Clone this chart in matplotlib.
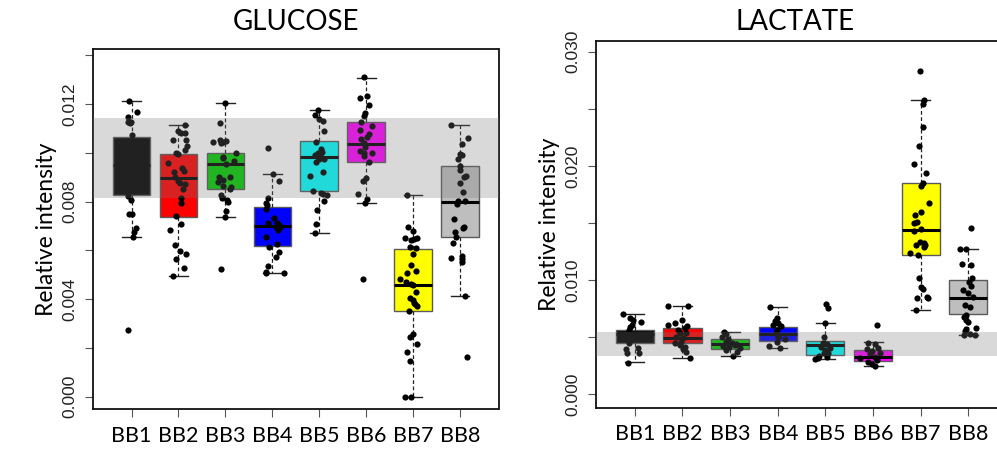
import matplotlib
matplotlib.use('Agg')
import matplotlib.pyplot as plt

groups = ['BB1', 'BB2', 'BB3', 'BB4', 'BB5', 'BB6', 'BB7', 'BB8']
box_colors = ['#000000', '#FF0000', '#00CD00', '#0000FF', '#00FFFF', '#FF00FF', '#FFFF00', '#BEBEBE']

# ---- GLUCOSE: box statistics
glu_q1 = [0.00828, 0.00738, 0.00850, 0.00616, 0.00843, 0.00960, 0.00350, 0.00654]
glu_med = [0.00950, 0.00896, 0.00954, 0.00699, 0.00982, 0.01036, 0.00460, 0.00800]
glu_q3 = [0.01066, 0.00995, 0.00999, 0.00777, 0.01046, 0.01127, 0.00607, 0.00945]
glu_lo = [0.00654, 0.00493, 0.00736, 0.00507, 0.00673, 0.00795, 0.00000, 0.00413]
glu_hi = [0.01210, 0.01112, 0.01204, 0.00913, 0.01173, 0.01307, 0.00827, 0.01115]
glu_band = (0.00816, 0.01142)

# GLUCOSE points (values) and their horizontal jitter (fraction of spacing)
glu_BB1 = [0.0121, 0.01168, 0.01148, 0.01127, 0.01124, 0.0112, 0.01072, 0.0098, 0.0092,
           0.0088, 0.00822, 0.00806, 0.00749, 0.00749, 0.0069, 0.00676, 0.00656, 0.00273]
glu_BB1_jit = [-0.06, 0.11, -0.07, -0.085, -0.01, -0.035, 0.0, 0.02, -0.05,
               0.05, -0.085, -0.015, -0.06, 0.0, 0.09, 0.06, 0.035, -0.085]
glu_BB2 = [0.01113, 0.0109, 0.01082, 0.01079, 0.01052, 0.01052, 0.01027, 0.01011, 0.00997, 0.00995,
           0.00956, 0.00936, 0.00926, 0.00922, 0.00899, 0.00885, 0.00874, 0.00872, 0.0085, 0.00813,
           0.00792, 0.0074, 0.00706, 0.00683, 0.00622, 0.00598, 0.00585, 0.00563, 0.00526, 0.00495]
glu_BB2_jit = [0.13, 0.0, 0.06, 0.14, -0.12, 0.16, 0.18, 0.13, -0.05, 0.0,
               -0.23, 0.07, 0.11, -0.1, -0.07, -0.01, 0.04, 0.14, 0.09, 0.06,
               0.06, -0.05, 0.06, -0.17, -0.07, 0.04, 0.16, -0.05, 0.11, -0.12]
glu_BB3 = [0.01202, 0.01123, 0.01045, 0.01052, 0.01045, 0.01049, 0.01038, 0.01, 0.00984, 0.00977,
           0.00954, 0.00967, 0.00899, 0.00888, 0.00899, 0.00881, 0.00863, 0.00858, 0.0085, 0.00827,
           0.00813, 0.00806, 0.00799, 0.00762, 0.00738, 0.00522]
glu_BB3_jit = [0.0, -0.11, -0.26, -0.11, -0.06, 0.01, -0.09, 0.23, -0.04, -0.06,
               0.01, 0.19, -0.13, -0.06, 0.1, -0.16, -0.04, 0.12, 0.1, -0.09,
               -0.07, 0.03, 0.05, 0.01, 0.0, -0.09]
glu_BB4 = [0.01018, 0.00913, 0.00885, 0.00813, 0.00795, 0.00768, 0.00786, 0.00731, 0.0071, 0.0071,
           0.00704, 0.00697, 0.00694, 0.00683, 0.00656, 0.00628, 0.00615, 0.00594, 0.00571, 0.00537,
           0.00508, 0.00508, 0.00512]
glu_BB4_jit = [-0.09, 0.01, 0.14, -0.09, -0.13, -0.14, -0.11, 0.03, -0.09, 0.1,
               0.14, 0.17, 0.07, 0.12, -0.13, 0.1, -0.06, 0.14, 0.07, -0.09,
               -0.13, 0.24, -0.14]
glu_BB5 = [0.01175, 0.01154, 0.01137, 0.01131, 0.0109, 0.01045, 0.01014, 0.00997, 0.01004, 0.0099,
           0.00981, 0.00973, 0.00973, 0.00963, 0.00922, 0.00904, 0.00844, 0.00836, 0.00831, 0.00827,
           0.00803, 0.00765, 0.00708, 0.00672]
glu_BB5_jit = [-0.03, -0.09, -0.01, 0.08, 0.11, -0.06, 0.03, -0.03, 0.06, -0.09,
               0.04, -0.01, 0.1, -0.06, 0.08, -0.2, -0.13, 0.03, 0.08, 0.17,
               0.11, -0.04, -0.06, -0.09]
glu_BB6 = [0.01309, 0.01223, 0.01232, 0.01195, 0.01164, 0.0115, 0.01127, 0.01111, 0.01093, 0.01077,
           0.01063, 0.01055, 0.01041, 0.01022, 0.01008, 0.01, 0.00997, 0.00986, 0.00963, 0.00895,
           0.00885, 0.00831, 0.00809, 0.00795, 0.00482]
glu_BB6_jit = [-0.05, -0.14, 0.02, 0.07, -0.02, -0.05, -0.11, 0.12, -0.14, 0.05,
               0.02, -0.12, -0.04, -0.02, -0.14, -0.05, 0.12, -0.04, 0.07, 0.0,
               -0.07, -0.18, 0.02, -0.02, -0.07]
glu_BB7 = [0.00826, 0.00697, 0.0068, 0.00649, 0.00642, 0.00645, 0.00649, 0.00615, 0.00608, 0.00585,
           0.0054, 0.00516, 0.00508, 0.00481, 0.00471, 0.00464, 0.00456, 0.0043, 0.00403, 0.00396,
           0.00385, 0.0038, 0.00372, 0.00352, 0.00257, 0.00246, 0.00216, 0.00184, 0.00148, 0.0, 0.0]
glu_BB7_jit = [-0.13, -0.11, -0.01, -0.18, -0.04, 0.01, 0.09, -0.06, 0.06, -0.01,
               -0.04, 0.07, -0.13, -0.28, -0.16, -0.04, -0.01, 0.06, -0.06, -0.01,
               0.01, 0.04, 0.09, -0.09, -0.01, -0.06, 0.09, -0.13, -0.06, -0.18, -0.04]
glu_BB8 = [0.01113, 0.01059, 0.01034, 0.00995, 0.0099, 0.00973, 0.00945, 0.00929, 0.00904, 0.00902,
           0.00874, 0.0084, 0.00803, 0.00803, 0.0079, 0.00727, 0.0069, 0.00694, 0.00676, 0.00656,
           0.00631, 0.00567, 0.00577, 0.00563, 0.00553, 0.00413, 0.00161]
glu_BB8_jit = [-0.2, 0.16, 0.04, 0.0, 0.04, -0.04, -0.01, 0.0, 0.13, 0.09,
               0.0, 0.06, -0.04, 0.11, -0.07, -0.13, 0.06, 0.09, -0.11, -0.09,
               -0.16, -0.2, 0.04, 0.04, 0.04, 0.11, 0.14]

# ---- LACTATE
lac_q1 = [0.00452, 0.00447, 0.00397, 0.00467, 0.00342, 0.00289, 0.01217, 0.00706]
lac_med = [0.00530, 0.00490, 0.00441, 0.00528, 0.00429, 0.00330, 0.01439, 0.00846]
lac_q3 = [0.00560, 0.00578, 0.00482, 0.00587, 0.00464, 0.00385, 0.01848, 0.00998]
lac_lo = [0.00280, 0.00315, 0.00336, 0.00403, 0.00306, 0.00248, 0.00738, 0.00517]
lac_hi = [0.00700, 0.00773, 0.00543, 0.00765, 0.00625, 0.00455, 0.02577, 0.01270]
lac_band = (0.00338, 0.00543)

lac_BB1 = [0.00703, 0.00666, 0.00651, 0.00636, 0.00607, 0.00587, 0.00563, 0.0053,
           0.005, 0.0048, 0.00447, 0.00394, 0.00403, 0.00359, 0.00359, 0.00277]
lac_BB1_jit = [-0.25, -0.09, -0.04, 0.14, -0.05, -0.09, -0.12, 0.0,
               0.1, -0.1, -0.12, -0.18, 0.07, -0.16, 0.09, -0.14]
lac_BB2 = [0.00773, 0.00773, 0.00651, 0.00628, 0.00607, 0.00598, 0.00578, 0.00563, 0.0054, 0.00534,
           0.00505, 0.0049, 0.00461, 0.00447, 0.00432, 0.00412, 0.00394, 0.00374, 0.00315]
lac_BB2_jit = [-0.3, 0.12, 0.0, -0.16, -0.3, 0.1, 0.05, -0.09, 0.07, -0.06,
               -0.13, 0.01, -0.02, -0.16, -0.06, 0.05, 0.01, 0.07, 0.15]
lac_BB3 = [0.00549, 0.00528, 0.00505, 0.00482, 0.00461, 0.00452, 0.00423,
           0.00412, 0.00432, 0.00388, 0.00336, 0.0044, 0.0041, 0.0037]
lac_BB3_jit = [-0.13, -0.08, -0.18, -0.04, -0.09, 0.03, -0.15,
               -0.02, 0.1, -0.08, 0.06, 0.12, 0.2, 0.14]
lac_BB4 = [0.00768, 0.00666, 0.00645, 0.00622, 0.00598, 0.00534, 0.00505,
           0.00482, 0.00461, 0.00423, 0.00403, 0.00563, 0.00607]
lac_BB4_jit = [-0.16, -0.02, -0.06, 0.01, 0.07, -0.04, 0.01,
               0.15, -0.02, -0.18, 0.05, -0.02, -0.09]
lac_BB5 = [0.00791, 0.00753, 0.00622, 0.00505, 0.00447, 0.00441, 0.00417, 0.00403,
           0.00388, 0.00365, 0.00359, 0.00336, 0.0033, 0.00306, 0.00315]
lac_BB5_jit = [0.01, 0.06, -0.01, -0.02, -0.06, 0.03, -0.09, 0.1,
               -0.01, -0.04, 0.06, -0.13, 0.03, -0.22, -0.15]
lac_BB6 = [0.00607, 0.00447, 0.00441, 0.00394, 0.00382, 0.00403, 0.00353,
           0.00315, 0.0033, 0.00301, 0.00286, 0.00266, 0.00248, 0.00359]
lac_BB6_jit = [0.08, -0.1, 0.04, -0.13, -0.03, 0.1, -0.06,
               -0.27, 0.03, 0.08, -0.1, -0.03, 0.04, 0.15]
lac_BB7 = [0.02834, 0.02577, 0.02542, 0.02338, 0.02177, 0.02014, 0.01935, 0.01848, 0.01824, 0.01673,
           0.016, 0.0157, 0.01512, 0.01497, 0.01445, 0.01433, 0.01308, 0.01337, 0.01328, 0.01308,
           0.01293, 0.01241, 0.0122, 0.01016, 0.00943, 0.00919, 0.00841, 0.00855, 0.00841, 0.00738]
lac_BB7_jit = [-0.01, 0.06, 0.04, 0.04, -0.03, -0.14, 0.11, 0.04, 0.0, 0.18,
               0.0, -0.12, -0.08, -0.14, 0.0, -0.15, -0.1, -0.01, 0.06, 0.09,
               0.07, -0.22, -0.05, -0.03, 0.0, 0.04, -0.07, 0.14, 0.16, -0.1]
lac_BB8 = [0.01454, 0.0127, 0.0127, 0.01141, 0.01133, 0.01016, 0.00987, 0.00949, 0.00914, 0.00884,
           0.00849, 0.00782, 0.00768, 0.00695, 0.0068, 0.00651, 0.00636, 0.00569, 0.00558, 0.00578,
           0.00528, 0.0052, 0.00517]
lac_BB8_jit = [0.05, -0.18, -0.04, -0.14, 0.05, 0.07, 0.02, 0.05, -0.12, 0.0,
               0.09, -0.07, 0.04, -0.05, -0.1, -0.04, 0.0, -0.05, -0.07, 0.16,
               0.04, -0.09, 0.14]

glu_points = [glu_BB1, glu_BB2, glu_BB3, glu_BB4, glu_BB5, glu_BB6, glu_BB7, glu_BB8]
glu_jits = [glu_BB1_jit, glu_BB2_jit, glu_BB3_jit, glu_BB4_jit,
            glu_BB5_jit, glu_BB6_jit, glu_BB7_jit, glu_BB8_jit]
lac_points = [lac_BB1, lac_BB2, lac_BB3, lac_BB4, lac_BB5, lac_BB6, lac_BB7, lac_BB8]
lac_jits = [lac_BB1_jit, lac_BB2_jit, lac_BB3_jit, lac_BB4_jit,
            lac_BB5_jit, lac_BB6_jit, lac_BB7_jit, lac_BB8_jit]

label_font = ['Lato', 'DejaVu Sans']
tick_font = ['Liberation Sans', 'DejaVu Sans']


def draw_panel(ax, title, q1, med, q3, lo, hi, points, jits, band, ylim, yticks, ylabels, title_pad):
    pos = list(range(1, len(groups) + 1))
    stats = []
    for i in range(len(groups)):
        stats.append({'q1': q1[i], 'med': med[i], 'q3': q3[i],
                      'whislo': lo[i], 'whishi': hi[i], 'fliers': []})
    bp = ax.bxp(stats, positions=pos, widths=0.8, capwidths=0.4, patch_artist=True,
                showfliers=False,
                boxprops=dict(edgecolor='#5a5a5a', linewidth=1.0),
                medianprops=dict(color='black', linewidth=2.2),
                whiskerprops=dict(color='#222222', linewidth=0.9, linestyle=(0, (3, 2))),
                capprops=dict(color='#222222', linewidth=1.0))
    for patch, c in zip(bp['boxes'], box_colors):
        patch.set_facecolor(c)
    for i in range(len(groups)):
        xs = [pos[i] + j for j in jits[i]]
        ax.scatter(xs, points[i], s=20, color='black', zorder=4, linewidths=0)
    # translucent reference band drawn over everything
    ax.axhspan(band[0], band[1], facecolor=(120 / 255, 120 / 255, 120 / 255),
               alpha=0.28, edgecolor='none', zorder=5)
    ax.set_xlim(0.18, 8.82)
    ax.set_ylim(*ylim)
    ax.set_yticks(yticks)
    ax.set_yticklabels(ylabels, rotation=90, va='center', family=tick_font,
                       fontsize=12.5, color='#222222')
    ax.set_xticks(pos)
    ax.set_xticklabels(groups, family=label_font, fontsize=15.5)
    ax.tick_params(axis='both', length=6, width=0.8, color='#555555')
    ax.tick_params(axis='y', pad=5)
    ax.tick_params(axis='x', pad=6)
    for s in ax.spines.values():
        s.set_linewidth(1.3)
        s.set_color('#111111')
    ax.set_ylabel('Relative intensity', family=label_font, fontsize=16.5, labelpad=4)
    ax.set_title(title, family=label_font, fontsize=20, pad=title_pad)


fig = plt.figure(figsize=(9.97, 4.49), dpi=100)
ax1 = fig.add_axes([0.0933, 0.0891, 0.4067, 0.8018])
ax2 = fig.add_axes([0.5975, 0.0920, 0.4130, 0.8167])

draw_panel(ax1, 'GLUCOSE', glu_q1, glu_med, glu_q3, glu_lo, glu_hi, glu_points, glu_jits,
           glu_band, (-0.0005, 0.01425),
           [0.000, 0.002, 0.004, 0.006, 0.008, 0.010, 0.012, 0.014],
           ['0.000', '', '0.004', '', '0.008', '', '0.012', ''], 14)
draw_panel(ax2, 'LACTATE', lac_q1, lac_med, lac_q3, lac_lo, lac_hi, lac_points, lac_jits,
           lac_band, (-0.00117, 0.03094),
           [0.000, 0.005, 0.010, 0.015, 0.020, 0.025, 0.030],
           ['0.000', '', '0.010', '', '0.020', '', '0.030'], 8)
ax2.title.set_position((0.485, 1.0))

fig.savefig('out.png', dpi=100)
